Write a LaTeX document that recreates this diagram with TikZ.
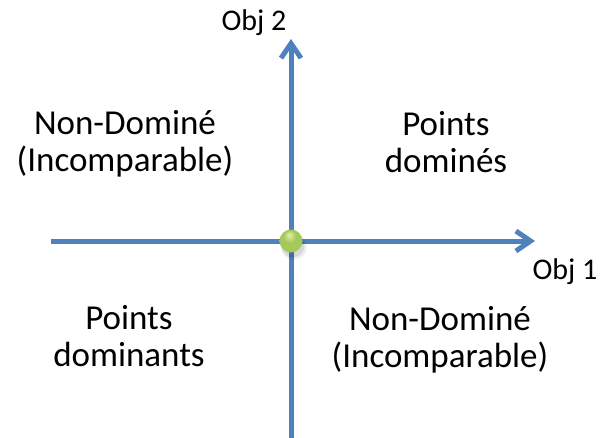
\documentclass[tikz,border=0pt]{standalone}
\usepackage{fontspec}
\setmainfont{Carlito}
\usetikzlibrary{arrows.meta}
\definecolor{axisblue}{RGB}{79,129,189}
\definecolor{gl}{RGB}{225,240,170}
\definecolor{gm}{RGB}{165,200,90}
\definecolor{gd}{RGB}{120,158,50}
\pgfdeclareradialshading{greenball}{\pgfpoint{-4bp}{14bp}}{color(0bp)=(gl); color(14bp)=(gm); color(32bp)=(gm); color(46bp)=(gd); color(50bp)=(gd)}
\tikzset{
  axis/.style={draw=axisblue, line width=3.75pt,
    -{Straight Barb[length=11pt,width=15pt,line width=3.75pt]}},
  region/.style={align=center, font=\fontsize{26.25}{27.75}\selectfont, text=black, inner sep=0pt},
  axlabel/.style={font=\fontsize{22.5}{24}\selectfont, text=black, inner sep=0pt, anchor=base}
}
\begin{document}
\begin{tikzpicture}[x=0.75pt,y=-0.75pt]
\useasboundingbox (0,0) rectangle (600,437);
\coordinate (xs) at (51,241);
\coordinate (xe) at (535,241);
\coordinate (ys) at (291,440);
\coordinate (ye) at (291,39);
\draw[axis] (xs) -- (xe);
\draw[axis] (ys) -- (ye);
\fill[black, opacity=0.10] (293,246) circle (11.5);
\fill[black, opacity=0.06] (294,247) circle (13);
\shade[shading=greenball] (291,241) circle (11.5);
\node[region, anchor=base] (nd1) at (125,171) {Non-Dominé\\(Incomparable)};
\node[region, anchor=base] (pd) at (446,172) {Points\\dominés};
\node[region, anchor=base] (pdn) at (129,366) {Points\\dominants};
\node[region, anchor=base] (nd2) at (440,367) {Non-Dominé\\(Incomparable)};
\node[axlabel] (o2) at (254,30) {Obj 2};
\node[axlabel] (o1) at (565,279) {Obj 1};
\end{tikzpicture}
\end{document}
